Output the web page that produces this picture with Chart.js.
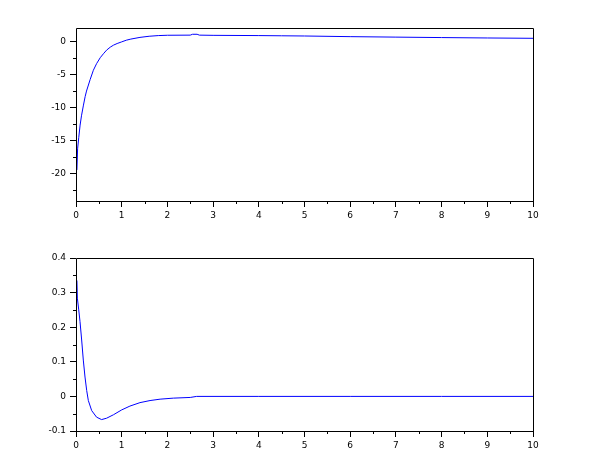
<!DOCTYPE html>
<html>
<head>
<meta charset="utf-8">
<script src="https://cdn.jsdelivr.net/npm/chart.js@4.4.1/dist/chart.umd.min.js"></script>
<style>
  body { margin: 0; background: #fff; }
  .box { position: absolute; left: 0; width: 610px; height: 230px; }
  #top { top: 0; }
  #bottom { top: 230px; }
</style>
</head>
<body>
<div class="box" id="top"><canvas id="chartTop"></canvas></div>
<div class="box" id="bottom"><canvas id="chartBottom"></canvas></div>
<script>
// top curve
var topX = [0.02, 0.035, 0.06, 0.09, 0.12, 0.16, 0.2, 0.23, 0.31, 0.38, 0.45, 0.53, 0.6, 0.67, 0.75, 0.82, 0.9, 1.0, 1.1, 1.2, 1.4, 1.6, 1.8, 2.0, 2.5, 2.55, 2.65, 2.7, 3, 4, 4.5, 5, 6, 7, 8, 9, 10];
var topY = [-19.4, -16.2, -14.5, -12.6, -11.2, -9.7, -8.3, -7.45, -5.7, -4.3, -3.3, -2.4, -1.8, -1.25, -0.8, -0.5, -0.25, 0, 0.25, 0.42, 0.68, 0.85, 0.95, 1.0, 1.02, 1.15, 1.15, 1.02, 0.99, 0.95, 0.92, 0.89, 0.79, 0.72, 0.65, 0.59, 0.54];

// bottom curve
var botX = [0.02, 0.03, 0.06, 0.088, 0.124, 0.16, 0.197, 0.234, 0.27, 0.343, 0.45, 0.56, 0.67, 0.82, 1.0, 1.18, 1.4, 1.62, 1.84, 2.13, 2.5, 2.64, 4, 6, 8, 10];
var botY = [0.335, 0.284, 0.25, 0.216, 0.163, 0.105, 0.056, 0.017, -0.012, -0.041, -0.06, -0.067, -0.063, -0.053, -0.039, -0.028, -0.018, -0.012, -0.008, -0.005, -0.003, 0, 0, 0, 0, 0];

// axes
var xTicks = [0, 1, 2, 3, 4, 5, 6, 7, 8, 9, 10];
var xMinor = [0.5, 1.5, 2.5, 3.5, 4.5, 5.5, 6.5, 7.5, 8.5, 9.5];
var topYTicks = [-20, -15, -10, -5, 0];
var topYMinor = [-22.5, -17.5, -12.5, -7.5, -2.5];
var topYRange = [-24.1, 2.1];
var botYTicks = [-0.1, 0, 0.1, 0.2, 0.3, 0.4];
var botYMinor = [-0.05, 0.05, 0.15, 0.25, 0.35];
var botYRange = [-0.1, 0.4];

function toPoints(xs, ys) {
  var pts = [];
  for (var i = 0; i < xs.length; i++) {
    pts.push({x: xs[i], y: ys[i]});
  }
  return pts;
}

function fmt(v) {
  // avoid things like 0.30000000000000004
  return String(Math.round(v * 1000) / 1000);
}

// frame + short minor ticks, drawn through the chart's scales
var framePlugin = {
  id: 'frame',
  afterDraw: function(chart, args, opts) {
    var c = chart.ctx;
    var a = chart.chartArea;
    var xs = chart.scales.x;
    var ys = chart.scales.y;
    c.save();
    c.strokeStyle = '#000';
    c.lineWidth = 1;
    c.beginPath();
    c.rect(Math.round(a.left) + 0.5, Math.round(a.top) + 0.5, Math.round(a.right - a.left), Math.round(a.bottom - a.top));
    c.stroke();
    c.beginPath();
    opts.xMinor.forEach(function(v) {
      var px = Math.round(xs.getPixelForValue(v)) + 0.5;
      c.moveTo(px, a.bottom);
      c.lineTo(px, a.bottom + 3);
    });
    opts.yMinor.forEach(function(v) {
      var py = Math.round(ys.getPixelForValue(v)) + 0.5;
      c.moveTo(a.left, py);
      c.lineTo(a.left - 3, py);
    });
    c.stroke();
    c.restore();
  }
};

function makeChart(id, xs, ys, yTicks, yMinor, yRange) {
  var ctx = document.getElementById(id).getContext('2d');
  return new Chart(ctx, {
    type: 'line',
    data: {
      datasets: [{
        data: toPoints(xs, ys),
        borderColor: '#0000ff',
        borderWidth: 1,
        pointRadius: 0,
        fill: false,
        tension: 0
      }]
    },
    plugins: [framePlugin],
    options: {
      responsive: true,
      maintainAspectRatio: false,
      animation: false,
      events: [],
      layout: { padding: { top: 28, right: 77, left: 0, bottom: 0 } },
      plugins: {
        legend: { display: false },
        tooltip: { enabled: false },
        frame: { xMinor: xMinor, yMinor: yMinor }
      },
      scales: {
        x: {
          type: 'linear',
          min: 0,
          max: 10,
          afterBuildTicks: function(s) { s.ticks = xTicks.map(function(v) { return {value: v}; }); },
          afterFit: function(s) { s.height = 29; },
          border: { display: false },
          grid: { drawOnChartArea: false, tickLength: 6, color: '#000', lineWidth: 1 },
          ticks: { color: '#000', padding: 3, maxRotation: 0, autoSkip: false,
                   font: { family: 'DejaVu Sans', size: 9 },
                   callback: function(v) { return fmt(v); } }
        },
        y: {
          type: 'linear',
          min: yRange[0],
          max: yRange[1],
          afterBuildTicks: function(s) { s.ticks = yTicks.map(function(v) { return {value: v}; }); },
          afterFit: function(s) { s.width = 76; },
          border: { display: false },
          grid: { drawOnChartArea: false, tickLength: 6, color: '#000', lineWidth: 1 },
          ticks: { color: '#000', padding: 4, autoSkip: false,
                   font: { family: 'DejaVu Sans', size: 9 },
                   callback: function(v) { return fmt(v); } }
        }
      }
    }
  });
}

window.onload = function() {
  makeChart('chartTop', topX, topY, topYTicks, topYMinor, topYRange);
  makeChart('chartBottom', botX, botY, botYTicks, botYMinor, botYRange);
};
</script>
</body>
</html>
